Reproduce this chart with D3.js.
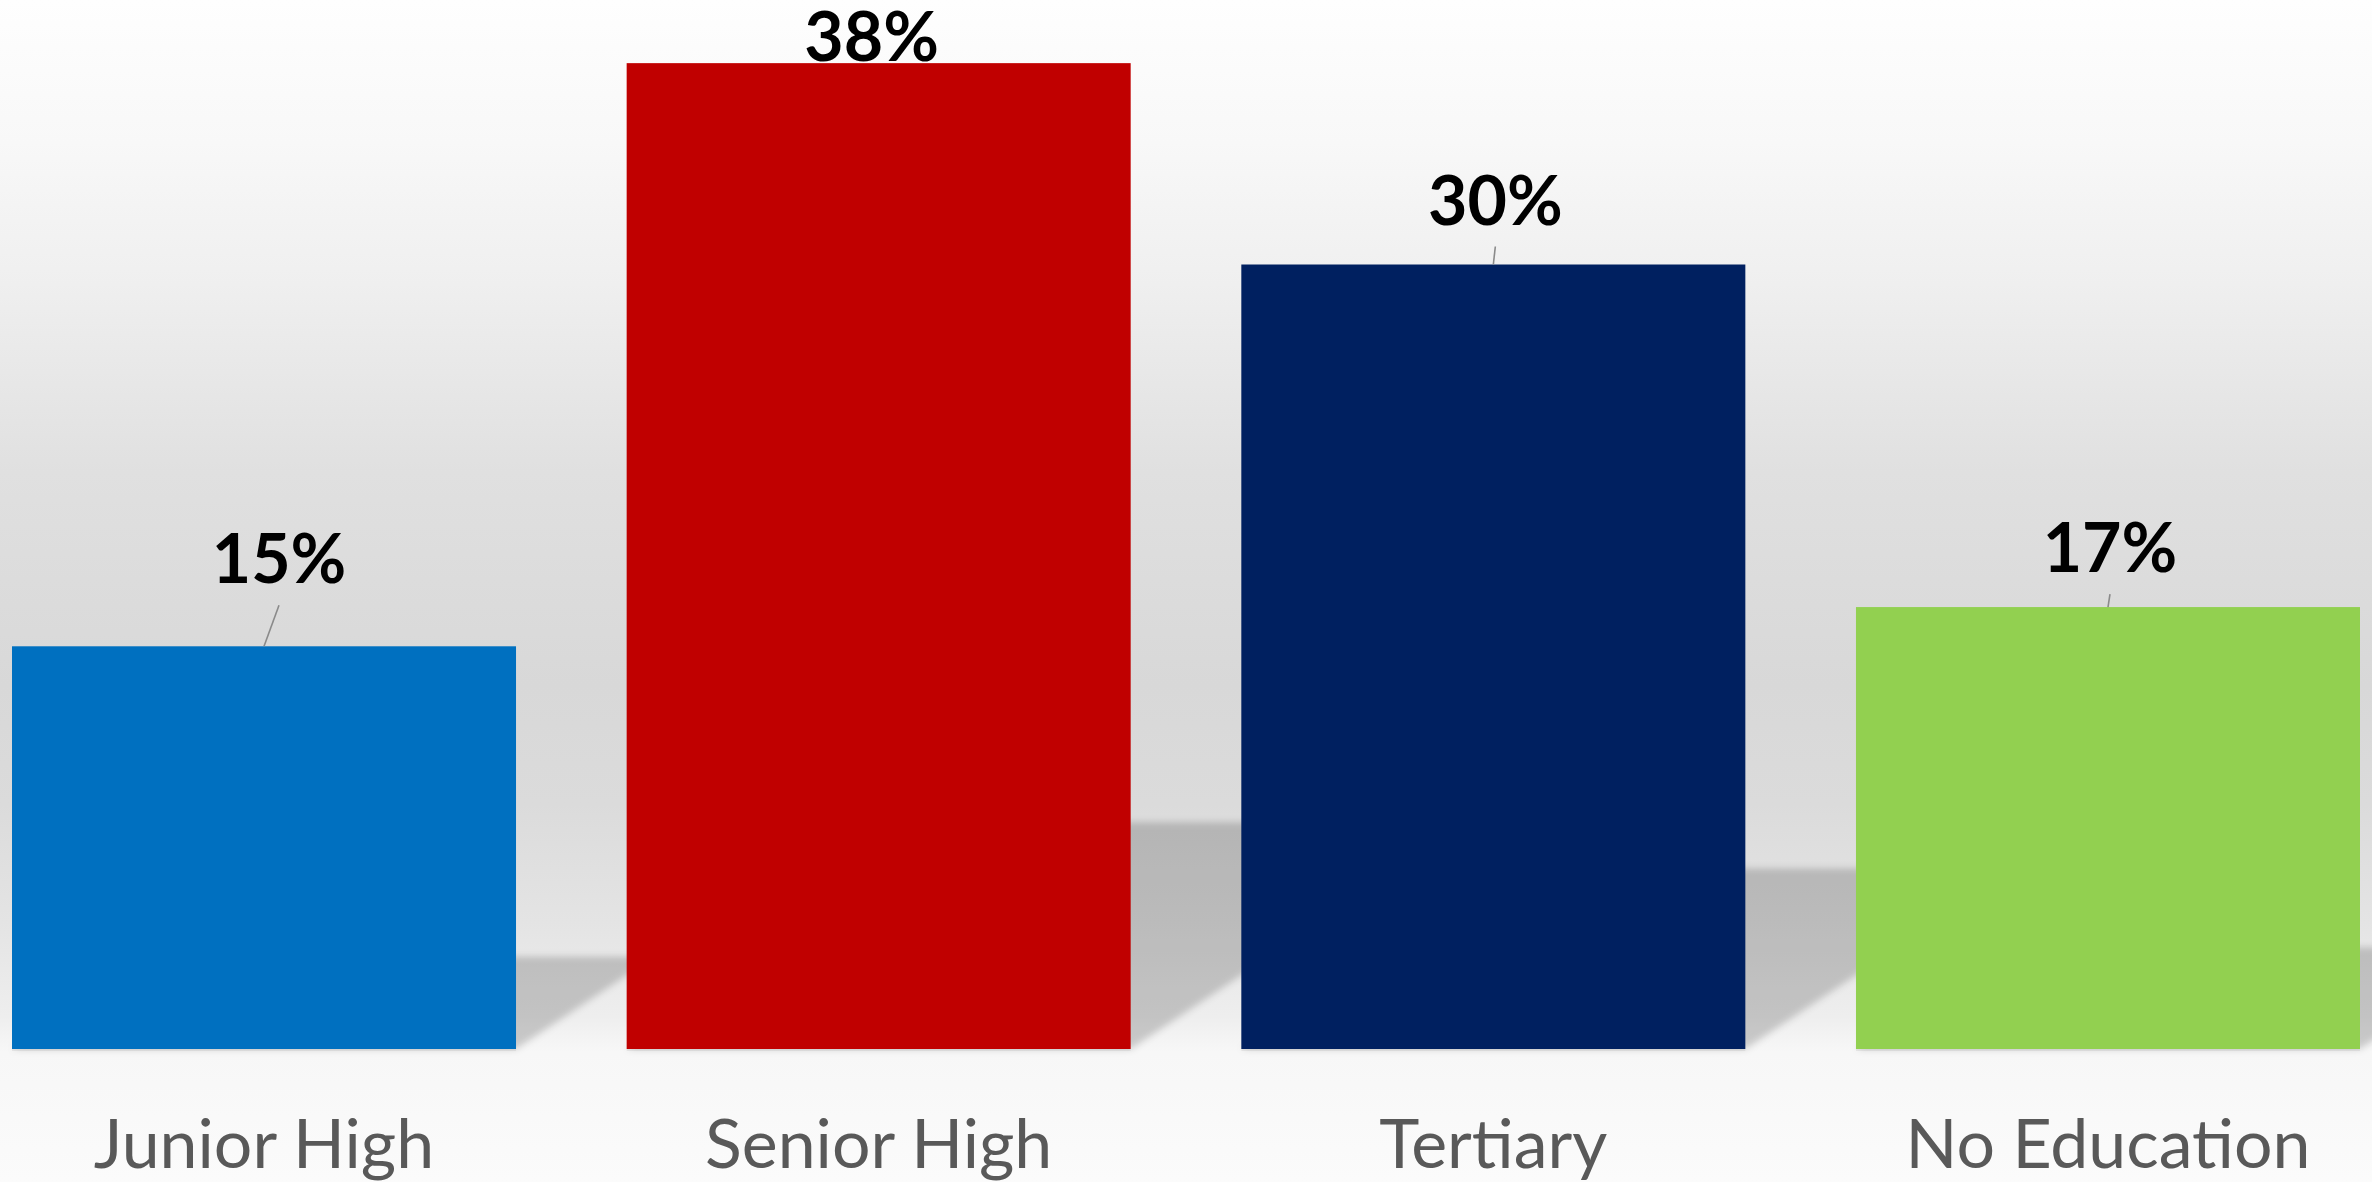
<!DOCTYPE html>
<html>
<head>
<meta charset="utf-8">
<script src="https://cdn.jsdelivr.net/npm/d3@7"></script>
<style>
  html, body { margin: 0; padding: 0; background: #ffffff; overflow: hidden; }
  svg { display: block; }
</style>
</head>
<body>
<svg id="chart" width="2372" height="1182"></svg>
<script>
// ---- data ----
const categories = ["Junior High", "Senior High", "Tertiary", "No Education"];
const values = [15.4, 37.7, 30.0, 16.9];
const colors = ["#0070C0", "#C00000", "#002060", "#92D050"];
// manual label placement (layout only)
const labelDx = [15, -7, 2, 2];
const labelDy = [-63, -2, -40, -35];

const W = 2372, H = 1182;
const svg = d3.select("#chart");
const defs = svg.append("defs");

// background gradient
const grad = defs.append("linearGradient")
  .attr("id", "bg").attr("x1", 0).attr("y1", 0).attr("x2", 0).attr("y2", 1);
[[0, "#fefefe"], [0.12, "#f8f8f8"], [0.24, "#efefef"], [0.40, "#e0e0e0"],
 [0.58, "#d8d8d8"], [0.68, "#dbdbdb"], [0.78, "#e4e4e4"], [0.86, "#eeeeee"],
 [0.89, "#f7f7f7"], [1, "#fbfbfb"]]
  .forEach(([o, c]) => grad.append("stop").attr("offset", o).attr("stop-color", c));
svg.append("rect").attr("width", W).attr("height", H).attr("fill", "url(#bg)");

// blur filter for shadows
defs.append("filter").attr("id", "blur").attr("x", "-10%").attr("y", "-10%")
  .attr("width", "120%").attr("height", "120%")
  .append("feGaussianBlur").attr("stdDeviation", 3.5);

// scales
const x = d3.scaleBand().domain(categories).range([12, 2360]).paddingInner(0.18).paddingOuter(0);
const y = d3.scaleLinear().domain([0, 40]).range([1049, 3]);

const data = categories.map((c, i) => ({ c, v: values[i], color: colors[i], i }));

// perspective shadows
const shadowScale = 0.23, shadowSkew = 1.5;
svg.append("g").attr("filter", "url(#blur)")
  .selectAll("path").data(data).join("path")
  .attr("d", d => {
    const x0 = x(d.c), x1 = x(d.c) + x.bandwidth();
    const b = y(0), h = y(0) - y(d.v);
    const hs = h * shadowScale, dx = hs * shadowSkew;
    return `M${x0},${b}L${x1},${b}L${x1 + dx},${b - hs}L${x0 + dx},${b - hs}Z`;
  })
  .attr("fill", "#000").attr("fill-opacity", 0.18);

// faint line under bars
svg.append("g").selectAll("rect").data(data).join("rect")
  .attr("x", d => x(d.c)).attr("y", y(0)).attr("width", x.bandwidth()).attr("height", 2)
  .attr("fill", "#000").attr("fill-opacity", 0.06);

// bars
svg.append("g").selectAll("rect").data(data).join("rect")
  .attr("x", d => x(d.c)).attr("y", d => y(d.v))
  .attr("width", x.bandwidth()).attr("height", d => y(0) - y(d.v))
  .attr("fill", d => d.color);

// value labels + leader lines
const cx = d => x(d.c) + x.bandwidth() / 2;
const lx = d => cx(d) + labelDx[d.i];
const ly = d => y(d.v) + labelDy[d.i];
svg.append("g").selectAll("line").data(data.filter(d => y(d.v) - (ly(d) + 22) > 4)).join("line")
  .attr("x1", cx).attr("y1", d => y(d.v))
  .attr("x2", lx).attr("y2", d => ly(d) + 22)
  .attr("stroke", "#8a8a8a").attr("stroke-width", 1.6);

svg.append("g").selectAll("text").data(data).join("text")
  .attr("x", lx).attr("y", ly)
  .attr("text-anchor", "middle")
  .attr("font-family", "Lato, 'Open Sans', sans-serif")
  .attr("font-weight", 700)
  .attr("font-size", 68)
  .attr("fill", "#000")
  .text(d => Math.round(d.v) + "%");

// category axis labels
const axis = d3.axisBottom(x).tickSize(0).tickPadding(0);
const gAxis = svg.append("g").attr("transform", `translate(0,1168)`).call(axis);
gAxis.select(".domain").remove();
gAxis.selectAll("text")
  .attr("dy", 0)
  .attr("y", 0)
  .attr("font-family", "Lato, 'Open Sans', sans-serif")
  .attr("font-size", 68)
  .attr("fill", "#595959");
</script>
</body>
</html>
